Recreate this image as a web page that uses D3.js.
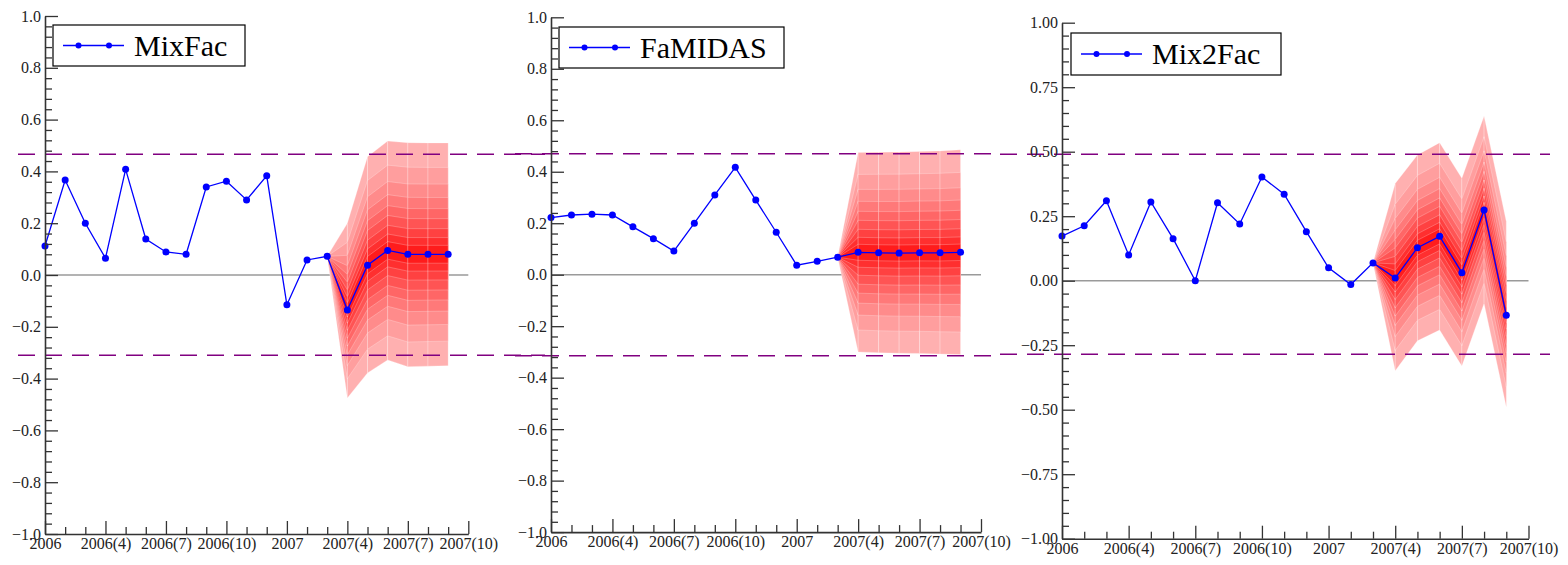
<!DOCTYPE html>
<html>
<head>
<meta charset="utf-8">
<script src="https://cdn.jsdelivr.net/npm/d3@7"></script>
<style>
  body { margin: 0; background: #fff; }
  svg text { font-family: "Liberation Serif", "DejaVu Serif", serif; }
</style>
</head>
<body>
<svg id="chart" width="1568" height="565"></svg>
<script>
// month labels on the x axis (index 0 = 2006, 21 = 2007(10))
const xTickMonths = [0, 3, 6, 9, 12, 15, 18, 21];
const xTickLabels = ["2006", "2006(4)", "2006(7)", "2006(10)", "2007", "2007(4)", "2007(7)", "2007(10)"];

// observed + point forecast, one value per month (2006(1) .. 2007(9))
const mixFac = [0.112, 0.367, 0.200, 0.065, 0.408, 0.139, 0.089, 0.080, 0.340, 0.362, 0.290, 0.383,
  -0.115, 0.058, 0.072, -0.135, 0.038, 0.095, 0.080, 0.080, 0.080];
const famidas = [0.222, 0.232, 0.235, 0.232, 0.186, 0.140, 0.092, 0.200, 0.310, 0.417, 0.290, 0.165,
  0.037, 0.052, 0.068, 0.087, 0.085, 0.084, 0.085, 0.085, 0.087];
const mix2Fac = [0.173, 0.213, 0.310, 0.100, 0.305, 0.163, 0.000, 0.302, 0.220, 0.402, 0.335, 0.190,
  0.050, -0.015, 0.069, 0.010, 0.128, 0.172, 0.031, 0.274, -0.134];

// fan: first month of the fan and its outer (widest) band, month 14 .. 20
const fanStart = 14;
const mixFacUpper = [0.072, 0.200, 0.457, 0.517, 0.511, 0.510, 0.510];
const mixFacLower = [0.072, -0.475, -0.378, -0.328, -0.354, -0.352, -0.350];
const famidasUpper = [0.068, 0.475, 0.476, 0.477, 0.479, 0.481, 0.485];
const famidasLower = [0.068, -0.300, -0.303, -0.305, -0.306, -0.308, -0.310];
const mix2FacUpper = [0.069, 0.377, 0.487, 0.535, 0.397, 0.638, 0.229];
const mix2FacLower = [0.069, -0.349, -0.233, -0.191, -0.331, -0.088, -0.490];

// share of the outer width covered by each nested band (outer -> inner)
const bandShares = [1, 0.78, 0.63, 0.51, 0.41, 0.32, 0.23, 0.15, 0.08];

// dashed reference levels
const mixFacBounds = [0.466, -0.31];
const famidasBounds = [0.47, -0.315];
const mix2FacBounds = [0.49, -0.285];

const panels = [
  {name: "MixFac", values: mixFac, upper: mixFacUpper, lower: mixFacLower, bounds: mixFacBounds,
   x0: 45, x1: 468.3, yTop: 16, yBot: 534, major: 0.2, minor: 0.04, fmt: ".1f",
   dash: [18, 545], legend: {x: 53, y: 25, w: 192, h: 41}},
  {name: "FaMIDAS", values: famidas, upper: famidasUpper, lower: famidasLower, bounds: famidasBounds,
   x0: 551, x1: 981, yTop: 17.3, yBot: 532.1, major: 0.2, minor: 0.04, fmt: ".1f",
   dash: [515, 1000], legend: {x: 559, y: 27, w: 225, h: 41}},
  {name: "Mix2Fac", values: mix2Fac, upper: mix2FacUpper, lower: mix2FacLower, bounds: mix2FacBounds,
   x0: 1062, x1: 1528.5, yTop: 22.7, yBot: 538.7, major: 0.25, minor: 0.05, fmt: ".2f",
   dash: [1000, 1550], legend: {x: 1071, y: 33, w: 210, h: 42}}
];

const svg = d3.select("#chart");
const bandColor = d3.scaleLinear().domain([0, bandShares.length - 1]).range(["#ffb0b0", "#ff1c1c"]);

panels.forEach(function (p) {
  let g = svg.append("g");
  let x = d3.scaleLinear().domain([0, 21]).range([p.x0, p.x1]);
  let y = d3.scaleLinear().domain([-1, 1]).range([p.yBot, p.yTop]);

  // zero line
  g.append("line").attr("x1", x(0)).attr("x2", x(21)).attr("y1", y(0)).attr("y2", y(0))
    .attr("stroke", "#9a9a9a").attr("stroke-width", 1.5);

  // fan chart, drawn segment by segment from the outer band inwards
  let fan = g.append("g");
  bandShares.forEach(function (s, k) {
    for (let j = 0; j < p.upper.length - 1; j++) {
      let pts = [];
      [j, j + 1].forEach(function (h) {
        let mid = p.values[fanStart + h];
        pts.push([x(fanStart + h), y(mid + (p.upper[h] - mid) * s)]);
      });
      [j + 1, j].forEach(function (h) {
        let mid = p.values[fanStart + h];
        pts.push([x(fanStart + h), y(mid - (mid - p.lower[h]) * s)]);
      });
      fan.append("path").attr("d", "M" + pts.join("L") + "Z")
        .attr("fill", bandColor(k))
        .attr("stroke", "#ffffff").attr("stroke-opacity", 0.3).attr("stroke-width", 0.8);
    }
  });

  // dashed bounds
  p.bounds.forEach(function (b) {
    g.append("line").attr("x1", p.dash[0]).attr("x2", p.dash[1]).attr("y1", y(b)).attr("y2", y(b))
      .attr("stroke", "#800080").attr("stroke-width", 1.5).attr("stroke-dasharray", "17,10");
  });

  // series
  let line = d3.line().x((d, i) => x(i)).y(d => y(d));
  g.append("path").datum(p.values).attr("d", line)
    .attr("fill", "none").attr("stroke", "#0000ff").attr("stroke-width", 1.3);
  g.selectAll("circle.pt").data(p.values).join("circle").attr("class", "pt")
    .attr("cx", (d, i) => x(i)).attr("cy", d => y(d)).attr("r", 3.5).attr("fill", "#0000ff");

  // y axis
  let majors = d3.range(-1, 1 + 1e-9, p.major);
  let minors = d3.range(-1, 1 + 1e-9, p.minor).filter(v => majors.every(m => Math.abs(m - v) > 1e-6));
  g.append("g").attr("transform", `translate(${p.x0},0)`)
    .call(d3.axisLeft(y).tickValues(majors).tickFormat(d3.format(p.fmt)).tickSizeInner(-13).tickSizeOuter(0).tickPadding(4));
  g.append("g").attr("transform", `translate(${p.x0},0)`)
    .call(d3.axisLeft(y).tickValues(minors).tickFormat("").tickSizeInner(-7).tickSizeOuter(0))
    .call(a => a.select(".domain").remove());

  // x axis
  g.append("g").attr("transform", `translate(0,${p.yBot})`)
    .call(d3.axisBottom(x).tickValues(xTickMonths).tickFormat((d, i) => xTickLabels[i]).tickSizeInner(-13).tickSizeOuter(0).tickPadding(4));
  g.append("g").attr("transform", `translate(0,${p.yBot})`)
    .call(d3.axisBottom(x).tickValues(d3.range(0, 22).filter(m => m % 3 !== 0)).tickFormat("").tickSizeInner(-7).tickSizeOuter(0))
    .call(a => a.select(".domain").remove());

  g.selectAll("g").attr("font-family", "'Liberation Serif', serif");
  g.selectAll(".tick line").attr("stroke", "#333").attr("stroke-width", 1.3);
  g.selectAll(".domain").attr("stroke", "#333").attr("stroke-width", 1.6);
  g.selectAll(".tick text").attr("fill", "#222").style("font-size", "16px")
    .style("font-family", "'Liberation Serif', serif");

  // legend
  let L = p.legend;
  let lg = g.append("g");
  lg.append("rect").attr("x", L.x).attr("y", L.y).attr("width", L.w).attr("height", L.h)
    .attr("fill", "#fff").attr("stroke", "#000").attr("stroke-width", 1.2);
  let ly = L.y + L.h / 2;
  lg.append("line").attr("x1", L.x + 10).attr("x2", L.x + 71).attr("y1", ly).attr("y2", ly)
    .attr("stroke", "#0000ff").attr("stroke-width", 1.3);
  [L.x + 25.5, L.x + 56].forEach(function (cx) {
    lg.append("circle").attr("cx", cx).attr("cy", ly).attr("r", 3).attr("fill", "#0000ff");
  });
  lg.append("text").attr("x", L.x + 81).attr("y", ly + 10).text(p.name)
    .style("font-size", "30px").attr("fill", "#000");
});
</script>
</body>
</html>
